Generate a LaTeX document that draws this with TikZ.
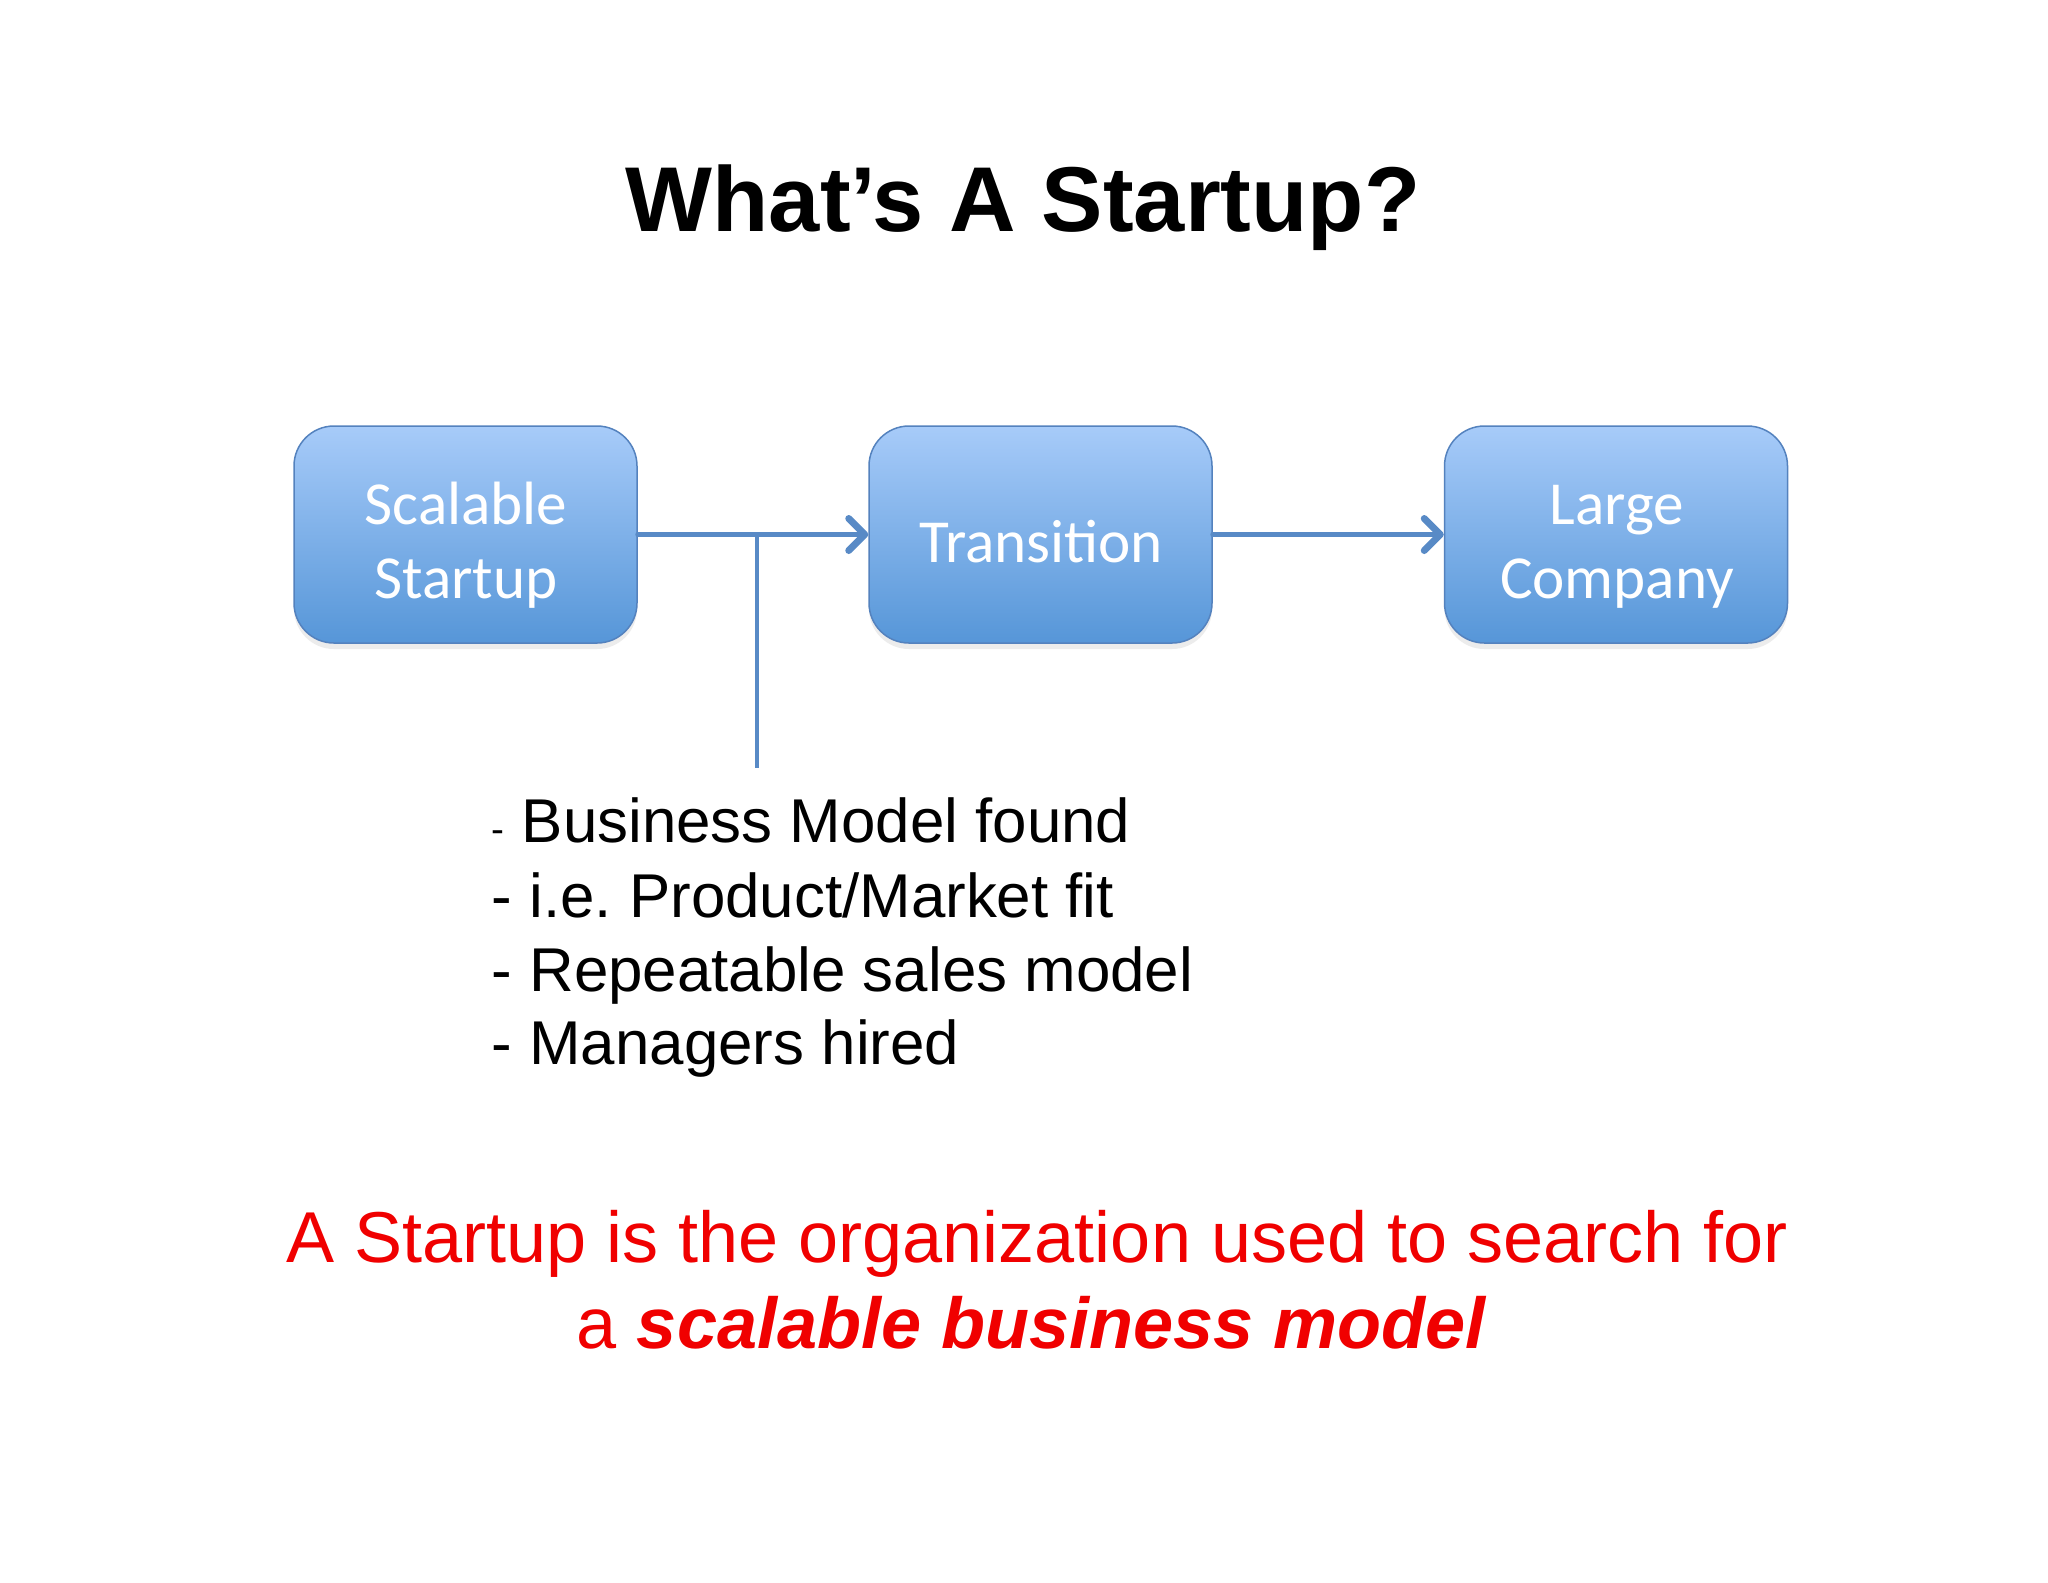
\documentclass[tikz,border=0pt]{standalone}
\usepackage{fontspec}
\setmainfont{Liberation Sans}
\newfontfamily\boxfont{Carlito}
\usetikzlibrary{arrows.meta,shadows}
\definecolor{boxtop}{RGB}{167,203,249}
\definecolor{boxbot}{RGB}{86,150,216}
\definecolor{boxedge}{RGB}{84,130,190}
\definecolor{arrowblue}{RGB}{88,138,198}
\definecolor{redtext}{RGB}{240,0,0}
\frenchspacing
\begin{document}
\begin{tikzpicture}[x=0.1mm,y=-0.1mm,
 stagebox/.style={rounded corners=4mm, minimum width=34.3mm, minimum height=21.7mm, inner sep=0pt,
   draw=boxedge, line width=0.15mm, top color=boxtop, bottom color=boxbot,
   drop shadow={opacity=0.15, shadow xshift=0mm, shadow yshift=-0.6mm}},
 boxlabel/.style={anchor=base, text=white, font=\boxfont\fontsize{17.4pt}{21pt}\selectfont, inner sep=0pt},
 listline/.style={anchor=base west, font=\fontsize{17.6pt}{21pt}\selectfont, inner sep=0pt},
 redline/.style={anchor=base, text=redtext, font=\fontsize{20.5pt}{25pt}\selectfont, inner sep=0pt},
 flow/.style={draw=arrowblue, line width=0.5mm, line cap=round, -{Straight Barb[length=1.6mm,width=3.2mm,line width=0.7mm,round]}},
 plainlink/.style={draw=arrowblue, line width=0.45mm},
]
\useasboundingbox (0,0) rectangle (2048,1582);
\fill[white] (0,0) rectangle (2048,1582);

\node (title) [anchor=base, inner sep=0pt, font=\bfseries\fontsize{26.2pt}{30pt}\selectfont] at (1023,231) {What’s A Startup?};

\node (s1) [stagebox] at (465.5,534.5) {};
\node (s2) [stagebox] at (1040.5,534.5) {};
\node (s3) [stagebox] at (1616,534.5) {};

\node (s1a) [boxlabel] at (466,524) {Scalable};
\node (s1b) [boxlabel] at (466,598) {Startup};
\node (s2a) [boxlabel] at (1041,562) {Transition};
\node (s3a) [boxlabel] at (1617,524) {Large};
\node (s3b) [boxlabel] at (1617,598) {Company};

\coordinate (j) at (757,534.5);
\coordinate (jend) at (757,768);
\draw[flow] (s1.east) -- (s2.west);
\draw[flow] (s2.east) -- (s3.west);
\draw[plainlink] (j) -- (jend);

\node (l1) [listline] at (491,842) {{\fontsize{11pt}{12pt}\selectfont -} Business Model found};
\node (l2) [listline] at (491,917) {- i.e. Product/Market fit};
\node (l3) [listline] at (491,991) {- Repeatable sales model};
\node (l4) [listline] at (491,1064) {- Managers hired};

\node (r1) [redline] at (1037,1262) {A Startup is the organization used to search for};
\node (r2) [redline] at (1032,1348) {a \textbf{\textit{scalable business model}}};
\end{tikzpicture}
\end{document}
